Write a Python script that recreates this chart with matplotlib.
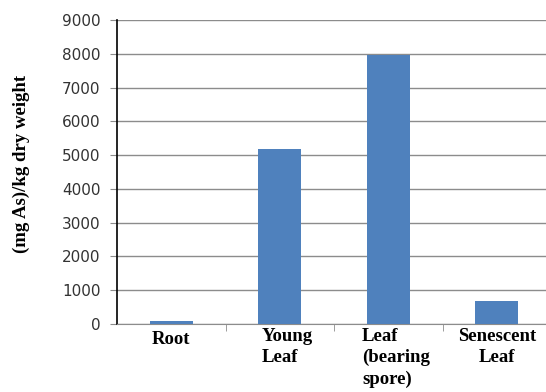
import matplotlib
matplotlib.use("Agg")
import matplotlib.pyplot as plt
import numpy as np

categories = ["Root", "Young\nLeaf", "Leaf\n(bearing\nspore)", "Senescent\nLeaf"]
values = [80, 5170, 7960, 680]
yticks = [0, 1000, 2000, 3000, 4000, 5000, 6000, 7000, 8000, 9000]
label_align = ["center", "left", "left", "center"]

fig = plt.figure(figsize=(5.46, 3.92), dpi=100)
ax = fig.add_axes([117/546, 1-324/392, 434/546, 304/392])
x = np.arange(len(categories))
ax.bar(x, values, width=0.4, color="#4F81BD", zorder=3)
ax.set_xlim(-0.5, 3.5)
ax.set_ylim(0, 9000)
ax.set_yticks(yticks)
ax.set_yticklabels([str(t) for t in yticks], fontsize=11, color="#333333", family="DejaVu Sans")
ax.yaxis.grid(True, color="#8c8c8c", linewidth=1, zorder=0)
ax.set_axisbelow(True)
for s in ["top", "right"]:
    ax.spines[s].set_visible(False)
ax.spines["left"].set_color("black")
ax.spines["left"].set_linewidth(1.2)
ax.spines["bottom"].set_color("#8c8c8c")
ax.tick_params(axis="y", length=5, color="#8c8c8c", pad=7)
ax.set_xticks(x)
ax.set_xticklabels([])
ax.tick_params(axis="x", length=0)
ax.set_xticks(np.arange(0.5, 3.5, 1), minor=True)
ax.tick_params(axis="x", which="minor", length=5, color="#8c8c8c")

tr = ax.get_xaxis_transform()
for i, (lab, al) in enumerate(zip(categories, label_align)):
    if "\n" in lab:
        ax.text(i + (0.07 if al == "left" else 0.0), -0.013, lab, transform=tr, ha="center", va="top",
                multialignment=al, fontsize=13.5, fontweight="bold", family="Liberation Serif",
                linespacing=1.3)
    else:
        ax.text(i, -0.052, lab, transform=tr, ha="center", va="center",
                fontsize=13.5, fontweight="bold", family="Liberation Serif")

fig.text(21/546, 1-164/392, "(mg As)/kg dry weight", rotation=90, ha="center", va="center",
         fontsize=13.5, fontweight="bold", family="Liberation Serif")
fig.savefig("out.png", dpi=100)
